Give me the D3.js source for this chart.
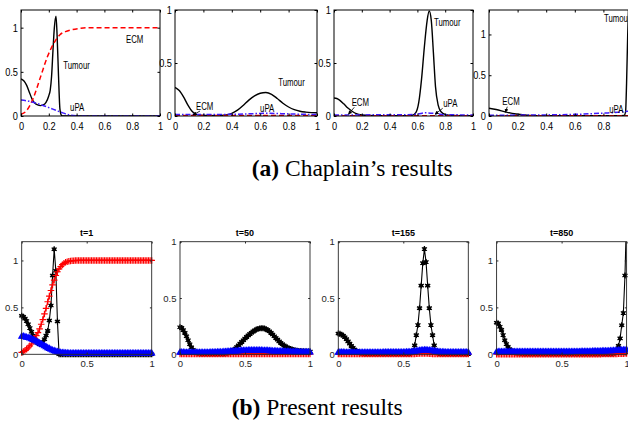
<!DOCTYPE html>
<html lang="en">
<head>
<meta charset="UTF-8">
<script src="https://d3js.org/d3.v7.min.js"></script>
<style>body{margin:0;background:#fff}</style>
</head>
<body>
<script>
// ---------- data ----------
const topXTicks = [0, 0.2, 0.4, 0.6, 0.8, 1];
const bottomXTicks = [0, 0.5, 1];
const yTicks = [0, 0.5, 1];
const timeTitles = ["t=1", "t=50", "t=155", "t=850"];
const captionTags = ["(a)", "(b)"];
const captionTexts = [" Chaplain\u2019s results", " Present results"];

// (a) Chaplain's results, [x, value] pairs
const chapTumour1 = [[0,0.42],[0.02,0.40],[0.04,0.35],[0.06,0.27],[0.08,0.19],[0.10,0.145],[0.12,0.125],[0.14,0.118],[0.16,0.125],[0.18,0.155],[0.20,0.23],[0.21,0.29],[0.22,0.45],[0.23,0.74],[0.24,1.0],[0.252,1.13],[0.26,0.9],[0.27,0.45],[0.28,0.08],[0.29,0.01],[0.30,0],[0.5,0],[1,0]];
const chapEcm1 = [[0,0.02],[0.04,0.06],[0.09,0.21],[0.14,0.44],[0.19,0.67],[0.235,0.82],[0.28,0.92],[0.32,0.955],[0.36,0.975],[0.43,0.993],[0.5,1],[1,1]];
const chapUpa1 = [[0,0.18],[0.05,0.17],[0.1,0.15],[0.15,0.125],[0.2,0.095],[0.25,0.065],[0.3,0.035],[0.35,0.012],[0.4,0.003],[0.45,0],[1,0]];

const chapTumour2 = [[0,0.27],[0.03,0.24],[0.06,0.18],[0.09,0.105],[0.12,0.045],[0.15,0.015],[0.2,0.005],[0.3,0.004],[0.36,0.01],[0.4,0.025],[0.44,0.055],[0.48,0.10],[0.52,0.15],[0.56,0.19],[0.6,0.215],[0.64,0.222],[0.68,0.205],[0.72,0.165],[0.76,0.12],[0.8,0.085],[0.84,0.06],[0.88,0.045],[0.92,0.037],[0.96,0.032],[1,0.03]];
const chapEcm2 = [[0,0.005],[0.5,0.004],[1,0.004]];
const chapUpa2 = [[0,0.014],[0.2,0.014],[0.4,0.016],[0.55,0.022],[0.65,0.026],[0.75,0.022],[0.9,0.016],[1,0.014]];

const chapTumour3 = [[0,0.17],[0.02,0.165],[0.04,0.15],[0.07,0.115],[0.1,0.075],[0.13,0.045],[0.16,0.022],[0.2,0.01],[0.3,0.003],[0.5,0.002],[0.56,0.006],[0.59,0.035],[0.61,0.13],[0.63,0.35],[0.65,0.65],[0.67,0.9],[0.685,0.99],[0.70,0.9],[0.715,0.6],[0.73,0.28],[0.75,0.1],[0.77,0.04],[0.8,0.015],[0.85,0.005],[1,0.002]];
const chapEcm3 = [[0,0.003],[0.5,0.003],[1,0.003]];
const chapUpa3 = [[0,0.01],[0.5,0.012],[0.6,0.018],[0.66,0.03],[0.72,0.025],[0.8,0.012],[1,0.01]];

const chapTumour4 = [[0,0.096],[0.05,0.08],[0.12,0.048],[0.19,0.024],[0.28,0.008],[0.4,0.003],[0.9,0.003],[0.945,0.008],[0.955,0.05],[0.962,0.4],[0.97,1.0],[0.98,1.6]];
const chapEcm4 = [[0,0.003],[0.5,0.003],[1,0.003]];
const chapUpa4 = [[0,0.01],[0.3,0.012],[0.6,0.02],[0.8,0.035],[0.9,0.045],[0.95,0.055],[1,0.06]];

// (b) Present results on the mesh x = i/80
const gridX = d3.range(81).map(i => i / 80);

const b1Tumour = [0.41,0.40,0.38,0.355,0.32,0.28,0.24,0.20,0.16,0.135,
  0.12,0.11,0.115,0.13,0.16,0.20,0.25,0.36,0.52,0.84,
  1.12,0.89,0.35,0,0,0,0,0,0,0,
  0,0,0,0,0,0,0,0,0,0,
  0,0,0,0,0,0,0,0,0,0,
  0,0,0,0,0,0,0,0,0,0,
  0,0,0,0,0,0,0,0,0,0,
  0,0,0,0,0,0,0,0,0,0,
  0];
const b1Ecm = [0.02,0.03,0.04,0.055,0.07,0.09,0.11,0.14,0.17,0.20,
  0.23,0.27,0.32,0.37,0.43,0.49,0.56,0.62,0.68,0.74,
  0.79,0.84,0.88,0.91,0.935,0.955,0.97,0.98,0.987,0.992,
  0.995,0.997,0.998,0.999,1,1,1,1,1,1,
  1,1,1,1,1,1,1,1,1,1,
  1,1,1,1,1,1,1,1,1,1,
  1,1,1,1,1,1,1,1,1,1,
  1,1,1,1,1,1,1,1,1,1,
  1];
const b1Upa = [0.19,0.19,0.185,0.18,0.175,0.17,0.163,0.155,0.147,0.138,
  0.128,0.118,0.108,0.098,0.088,0.078,0.068,0.059,0.05,0.042,
  0.035,0.029,0.024,0.02,0.017,0.015,0.013,0.012,0.011,0.01,
  0.01,0.01,0.01,0.01,0.01,0.01,0.01,0.01,0.01,0.01,
  0.01,0.01,0.01,0.01,0.01,0.01,0.01,0.01,0.01,0.01,
  0.01,0.01,0.01,0.01,0.01,0.01,0.01,0.01,0.01,0.01,
  0.01,0.01,0.01,0.01,0.01,0.01,0.01,0.01,0.01,0.01,
  0.01,0.01,0.01,0.01,0.01,0.01,0.01,0.01,0.01,0.01,
  0.01];

const b2Tumour = [0.24,0.235,0.215,0.19,0.16,0.125,0.09,0.062,0.04,0.025,
  0.015,0.01,0.007,0.005,0.004,0.004,0.004,0.004,0.004,0.004,
  0.004,0.004,0.004,0.004,0.004,0.004,0.004,0.005,0.007,0.01,
  0.015,0.022,0.03,0.04,0.05,0.065,0.08,0.095,0.11,0.125,
  0.14,0.155,0.168,0.18,0.192,0.203,0.212,0.22,0.226,0.23,
  0.232,0.232,0.229,0.223,0.215,0.204,0.19,0.176,0.16,0.145,
  0.13,0.115,0.101,0.089,0.078,0.068,0.06,0.053,0.047,0.042,
  0.038,0.035,0.032,0.03,0.029,0.028,0.027,0.026,0.025,0.025,
  0.024];
const b2Ecm = [0.003,0.003,0.002,0.002,0.002,0.002,0.002,0.002,0.002,0.002,
  0.002,0.002,0.002,0.002,0.002,0.002,0.002,0.002,0.002,0.002,
  0.002,0.002,0.002,0.002,0.002,0.002,0.002,0.002,0.002,0.002,
  0.002,0.002,0.002,0.002,0.002,0.002,0.002,0.002,0.002,0.002,
  0.002,0.002,0.002,0.002,0.003,0.003,0.003,0.003,0.003,0.003,
  0.003,0.003,0.003,0.003,0.003,0.003,0.003,0.002,0.002,0.002,
  0.002,0.002,0.002,0.002,0.002,0.002,0.002,0.002,0.002,0.002,
  0.002,0.002,0.002,0.002,0.002,0.002,0.002,0.002,0.002,0.002,
  0.002];
const b2Upa = [0.016,0.016,0.016,0.015,0.015,0.015,0.015,0.014,0.014,0.014,
  0.014,0.014,0.014,0.014,0.014,0.014,0.015,0.015,0.015,0.016,
  0.016,0.017,0.017,0.018,0.018,0.019,0.019,0.02,0.021,0.022,
  0.023,0.024,0.025,0.026,0.027,0.028,0.029,0.03,0.031,0.031,
  0.032,0.032,0.033,0.033,0.033,0.033,0.033,0.033,0.033,0.033,
  0.033,0.032,0.032,0.031,0.031,0.03,0.029,0.028,0.028,0.027,
  0.026,0.025,0.025,0.024,0.023,0.023,0.022,0.022,0.021,0.021,
  0.02,0.02,0.02,0.019,0.019,0.019,0.018,0.018,0.018,0.018,
  0.018];

const b3Tumour = [0.184,0.182,0.175,0.165,0.152,0.135,0.115,0.095,0.075,0.057,
  0.042,0.03,0.021,0.015,0.01,0.008,0.005,0.005,0.005,0.005,
  0.005,0.005,0.005,0.005,0.005,0.005,0.005,0.005,0.005,0.005,
  0.005,0.005,0.005,0.005,0.005,0.005,0.005,0.005,0.005,0.005,
  0.005,0.005,0.005,0.005,0.005,0.012,0.03,0.08,0.17,0.26,
  0.41,0.61,0.81,0.935,0.82,0.61,0.41,0.26,0.17,0.08,
  0.03,0.012,0.006,0.004,0.004,0.004,0.004,0.004,0.004,0.004,
  0.004,0.004,0.004,0.004,0.004,0.004,0.004,0.004,0.004,0.004,
  0.004];
const b3Ecm = [0.002,0.002,0.002,0.002,0.002,0.002,0.002,0.002,0.002,0.002,
  0.002,0.002,0.002,0.002,0.002,0.002,0.002,0.002,0.002,0.002,
  0.002,0.002,0.002,0.002,0.002,0.002,0.002,0.002,0.002,0.002,
  0.002,0.002,0.002,0.002,0.002,0.002,0.002,0.002,0.002,0.002,
  0.002,0.002,0.002,0.002,0.002,0.002,0.003,0.004,0.005,0.006,
  0.007,0.008,0.008,0.008,0.008,0.007,0.006,0.005,0.004,0.003,
  0.002,0.002,0.002,0.002,0.002,0.002,0.002,0.002,0.002,0.002,
  0.002,0.002,0.002,0.002,0.002,0.002,0.002,0.002,0.002,0.002,
  0.002];
const b3Upa = [0.016,0.016,0.016,0.016,0.015,0.015,0.015,0.015,0.015,0.015,
  0.015,0.015,0.015,0.015,0.015,0.015,0.015,0.015,0.015,0.015,
  0.015,0.015,0.015,0.015,0.015,0.015,0.015,0.015,0.016,0.016,
  0.016,0.016,0.016,0.016,0.016,0.016,0.016,0.016,0.016,0.016,
  0.017,0.017,0.018,0.018,0.019,0.02,0.022,0.024,0.027,0.03,
  0.032,0.034,0.035,0.036,0.036,0.035,0.034,0.032,0.03,0.027,
  0.024,0.022,0.02,0.019,0.018,0.018,0.017,0.017,0.017,0.016,
  0.016,0.016,0.016,0.016,0.016,0.016,0.016,0.016,0.016,0.016,
  0.016];

const b4Tumour = [0.337,0.33,0.294,0.26,0.206,0.15,0.11,0.08,0.053,0.04,
  0.03,0.022,0.016,0.012,0.01,0.008,0.007,0.006,0.006,0.005,
  0.005,0.005,0.005,0.005,0.005,0.005,0.005,0.005,0.005,0.005,
  0.005,0.005,0.005,0.005,0.005,0.005,0.005,0.005,0.005,0.005,
  0.005,0.005,0.005,0.005,0.005,0.005,0.005,0.005,0.005,0.005,
  0.005,0.005,0.005,0.005,0.005,0.005,0.005,0.005,0.005,0.005,
  0.005,0.005,0.005,0.005,0.005,0.005,0.005,0.005,0.005,0.005,
  0.005,0.006,0.008,0.015,0.03,0.09,0.17,0.31,0.44,0.84,
  1.5];
const b4Ecm = [0.002,0.002,0.002,0.002,0.002,0.002,0.002,0.002,0.002,0.002,
  0.002,0.002,0.002,0.002,0.002,0.002,0.002,0.002,0.002,0.002,
  0.002,0.002,0.002,0.002,0.002,0.002,0.002,0.002,0.002,0.002,
  0.002,0.002,0.002,0.002,0.002,0.002,0.002,0.002,0.002,0.002,
  0.002,0.002,0.002,0.002,0.002,0.002,0.002,0.002,0.002,0.002,
  0.002,0.002,0.002,0.002,0.002,0.002,0.002,0.002,0.002,0.002,
  0.002,0.002,0.002,0.002,0.002,0.003,0.003,0.003,0.003,0.003,
  0.003,0.003,0.004,0.004,0.004,0.005,0.005,0.006,0.007,0.008,
  0.009];
const b4Upa = [0.024,0.024,0.024,0.024,0.024,0.024,0.024,0.024,0.024,0.024,
  0.024,0.024,0.024,0.024,0.024,0.024,0.024,0.024,0.024,0.024,
  0.024,0.024,0.024,0.024,0.024,0.024,0.024,0.024,0.024,0.024,
  0.024,0.024,0.024,0.024,0.024,0.024,0.024,0.024,0.025,0.025,
  0.025,0.025,0.025,0.025,0.025,0.025,0.025,0.026,0.026,0.026,
  0.026,0.026,0.027,0.027,0.027,0.027,0.028,0.028,0.028,0.029,
  0.029,0.03,0.03,0.031,0.031,0.032,0.032,0.033,0.034,0.034,
  0.035,0.036,0.037,0.038,0.039,0.04,0.041,0.042,0.043,0.044,
  0.045];

// ---------- layout ----------
const W = 628, H = 423;
const topTop = 10, topBottom = 116;
const botTop = 241.7, botBottom = 354.3;
const sans = "'Liberation Sans', Arial, Helvetica, sans-serif";
const serif = "'Liberation Serif', 'Times New Roman', serif";
const upaTopColor = "#3f1cff";

const topPanels = [
  {left: 21, width: 139, ymax: 1.2, tumour: chapTumour1, ecm: chapEcm1, upa: chapUpa1,
   notes: [{t: "Tumour", x: 0.304, y: 0.535}, {t: "uPA", x: 0.353, y: 0.055}, {t: "ECM", x: 0.755, y: 0.826}]},
  {left: 175, width: 142, ymax: 1, tumour: chapTumour2, ecm: chapEcm2, upa: chapUpa2,
   notes: [{t: "ECM", x: 0.148, y: 0.052, arrow: [0.176, 0.047, 0.127, 0.01]},
           {t: "uPA", x: 0.599, y: 0.042}, {t: "Tumour", x: 0.727, y: 0.283}]},
  {left: 334, width: 139, ymax: 1, tumour: chapTumour3, ecm: chapEcm3, upa: chapUpa3,
   notes: [{t: "ECM", x: 0.127, y: 0.09, arrow: [0.146, 0.082, 0.103, 0.016]},
           {t: "Tumour", x: 0.719, y: 0.846},
           {t: "uPA", x: 0.786, y: 0.085, arrow: [0.782, 0.073, 0.727, 0.016]}]},
  {left: 489, width: 143, ymax: 1.3, tumour: chapTumour4, ecm: chapEcm4, upa: chapUpa4,
   notes: [{t: "ECM", x: 0.093, y: 0.129, arrow: [0.128, 0.114, 0.114, 0.045]},
           {t: "Tumour", x: 0.804, y: 1.157}, {t: "uPA", x: 0.841, y: 0.037}]}
];

const bottomSeries = [
  {tumour: b1Tumour, ecm: b1Ecm, upa: b1Upa, ymax: 1.2},
  {tumour: b2Tumour, ecm: b2Ecm, upa: b2Upa, ymax: 1},
  {tumour: b3Tumour, ecm: b3Ecm, upa: b3Upa, ymax: 1},
  {tumour: b4Tumour, ecm: b4Ecm, upa: b4Upa, ymax: 1.2}
];

const svg = d3.select("body").append("svg")
  .attr("width", W).attr("height", H)
  .style("font-family", sans);
const defs = svg.append("defs");
defs.append("marker").attr("id", "arrowHead")
  .attr("viewBox", "0 0 6 6").attr("refX", 5.5).attr("refY", 3)
  .attr("markerWidth", 5).attr("markerHeight", 5).attr("orient", "auto")
  .append("path").attr("d", "M0,0L6,3L0,6Z").attr("fill", "#000");

function styleAxis(a, size, color) {
  a.select(".domain").remove();
  a.attr("font-family", sans).attr("font-size", size).attr("color", color);
}
// the old figure uses a condensed face; squeeze the glyphs horizontally
function squeeze(sel, f) {
  sel.each(function () {
    const w = this.getComputedTextLength();
    d3.select(this).attr("textLength", w * f).attr("lengthAdjust", "spacingAndGlyphs");
  });
}

// ---------- (a) top row ----------
topPanels.forEach((p, k) => {
  const x = d3.scaleLinear().domain([0, 1]).range([p.left, p.left + p.width]);
  const y = d3.scaleLinear().domain([0, p.ymax]).range([topBottom, topTop]);
  const g = svg.append("g");
  const clipId = "tclip" + k;
  defs.append("clipPath").attr("id", clipId).append("rect")
    .attr("x", p.left).attr("y", topTop).attr("width", p.width).attr("height", topBottom - topTop);

  const line = d3.line().x(d => x(d[0])).y(d => y(d[1])).curve(d3.curveMonotoneX);
  const plot = g.append("g").attr("clip-path", `url(#${clipId})`);
  plot.append("path").datum(p.tumour).attr("d", line)
    .attr("fill", "none").attr("stroke", "#000").attr("stroke-width", 1.4);
  plot.append("path").datum(p.ecm).attr("d", line)
    .attr("fill", "none").attr("stroke", "#ff0000").attr("stroke-width", 1.5)
    .attr("stroke-dasharray", "5,3");
  plot.append("path").datum(p.upa).attr("d", line)
    .attr("fill", "none").attr("stroke", upaTopColor).attr("stroke-width", 1.5)
    .attr("stroke-dasharray", "5,2,1.5,2");

  g.append("g").attr("transform", `translate(0,${topBottom})`)
    .call(d3.axisBottom(x).tickValues(topXTicks).tickFormat(d => d)
      .tickSizeInner(-2.5).tickSizeOuter(0).tickPadding(6.5))
    .call(a => styleAxis(a, 10.5, "#000"))
    .call(a => squeeze(a.selectAll("text"), 0.88));
  g.append("g").attr("transform", `translate(0,${topTop})`)
    .call(d3.axisTop(x).tickValues(topXTicks).tickFormat("").tickSizeInner(-2.5).tickSizeOuter(0))
    .call(a => styleAxis(a, 10.5, "#000"));
  g.append("g").attr("transform", `translate(${p.left},0)`)
    .call(d3.axisLeft(y).tickValues(yTicks).tickFormat(d => d)
      .tickSizeInner(-2.5).tickSizeOuter(0).tickPadding(3))
    .call(a => styleAxis(a, 10.5, "#000"))
    .call(a => squeeze(a.selectAll("text"), 0.88));
  g.append("g").attr("transform", `translate(${p.left + p.width},0)`)
    .call(d3.axisRight(y).tickValues(yTicks).tickFormat("").tickSizeInner(-2.5).tickSizeOuter(0))
    .call(a => styleAxis(a, 10.5, "#000"));

  g.append("rect").attr("x", p.left).attr("y", topTop)
    .attr("width", p.width).attr("height", topBottom - topTop)
    .attr("fill", "none").attr("stroke", "#000").attr("stroke-width", 1);

  p.notes.forEach(n => {
    g.append("text").attr("x", x(n.x)).attr("y", y(n.y))
      .attr("font-size", 10).text(n.t)
      .call(t => squeeze(t, 0.78));
    if (n.arrow) {
      g.append("line")
        .attr("x1", x(n.arrow[0])).attr("y1", y(n.arrow[1]))
        .attr("x2", x(n.arrow[2])).attr("y2", y(n.arrow[3]))
        .attr("stroke", "#000").attr("stroke-width", 0.8)
        .attr("marker-end", "url(#arrowHead)");
    }
  });
});

// ---------- (b) bottom row ----------
const axisGrey = "#262626";
bottomSeries.forEach((s, k) => {
  const left = 21.7 + k * 158.3, width = 130;
  const x = d3.scaleLinear().domain([0, 1]).range([left, left + width]);
  const y = d3.scaleLinear().domain([0, s.ymax]).range([botBottom, botTop]);
  const g = svg.append("g");
  const clipId = "bclip" + k;
  defs.append("clipPath").attr("id", clipId).append("rect")
    .attr("x", left).attr("y", botTop).attr("width", width).attr("height", botBottom - botTop);

  const pts = arr => gridX.map((xv, i) => [xv, arr[i]]);
  const line = d3.line().x(d => x(d[0])).y(d => y(d[1]));
  const lines = g.append("g").attr("clip-path", `url(#${clipId})`);
  const marks = g.append("g");

  const layers = [
    {data: pts(s.tumour), color: "#000", sym: d3.symbolAsterisk, size: 24, fill: false, sw: 1.3},
    {data: pts(s.ecm), color: "#ff0000", sym: d3.symbolPlus, size: 16, fill: false, sw: 1.2},
    {data: pts(s.upa), color: "#0000ff", sym: d3.symbolTriangle, size: 26, fill: true, sw: 0}
  ];
  layers.forEach(L => {
    lines.append("path").datum(L.data).attr("d", line)
      .attr("fill", "none").attr("stroke", L.color).attr("stroke-width", 1.1);
    const shown = L.data.filter(d => d[1] <= s.ymax);
    const shape = d3.symbol(L.sym, L.size)();
    marks.append("g").selectAll("path")
      .data(shown)
      .join("path")
      .attr("transform", d => `translate(${x(d[0])},${y(d[1])})`)
      .attr("d", shape)
      .attr("fill", L.fill ? L.color : "none")
      .attr("stroke", L.fill ? "none" : L.color)
      .attr("stroke-width", L.sw);
    if (L.sym === d3.symbolAsterisk) {
      marks.append("g").selectAll("circle")
        .data(shown)
        .join("circle")
        .attr("cx", d => x(d[0])).attr("cy", d => y(d[1])).attr("r", 1.9)
        .attr("fill", "#000");
    }
  });

  g.append("g").attr("transform", `translate(0,${botBottom})`)
    .call(d3.axisBottom(x).tickValues(bottomXTicks).tickFormat(d => d)
      .tickSizeInner(-1.8).tickSizeOuter(0).tickPadding(6))
    .call(a => styleAxis(a, 9.5, axisGrey));
  g.append("g").attr("transform", `translate(0,${botTop})`)
    .call(d3.axisTop(x).tickValues(bottomXTicks).tickFormat("").tickSizeInner(-1.8).tickSizeOuter(0))
    .call(a => styleAxis(a, 9.5, axisGrey));
  g.append("g").attr("transform", `translate(${left},0)`)
    .call(d3.axisLeft(y).tickValues(yTicks).tickFormat(d => d)
      .tickSizeInner(-1.8).tickSizeOuter(0).tickPadding(3.5))
    .call(a => styleAxis(a, 9.5, axisGrey));
  g.append("g").attr("transform", `translate(${left + width},0)`)
    .call(d3.axisRight(y).tickValues(yTicks).tickFormat("").tickSizeInner(-1.8).tickSizeOuter(0))
    .call(a => styleAxis(a, 9.5, axisGrey));

  g.append("rect").attr("x", left).attr("y", botTop)
    .attr("width", width).attr("height", botBottom - botTop)
    .attr("fill", "none").attr("stroke", axisGrey).attr("stroke-width", 0.9);

  g.append("text").attr("x", left + width / 2).attr("y", botTop - 5.5)
    .attr("text-anchor", "middle").attr("font-weight", "bold")
    .attr("font-size", 9).attr("fill", "#000").text(timeTitles[k]);
});

// ---------- captions ----------
[[251.7, 176], [231.7, 415]].forEach((pos, i) => {
  const t = svg.append("text").attr("x", pos[0]).attr("y", pos[1])
    .attr("font-family", serif).attr("font-size", 23.5).attr("fill", "#000");
  t.append("tspan").attr("font-weight", "bold").text(captionTags[i]);
  t.append("tspan").text(captionTexts[i]);
});
</script>
</body>
</html>
